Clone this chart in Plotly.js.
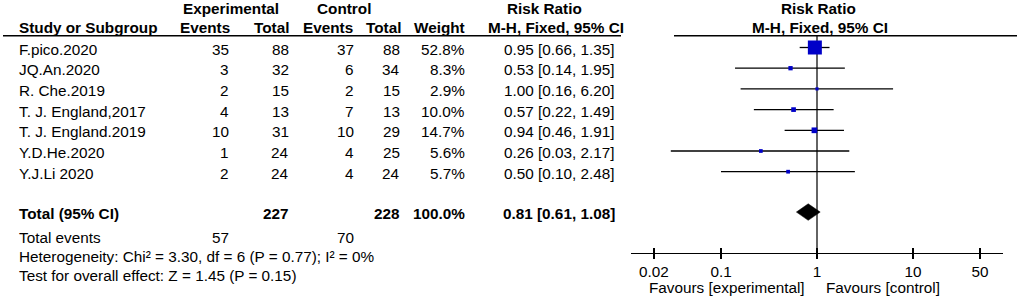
<!DOCTYPE html>
<html>
<head>
<meta charset="utf-8">
<script src="https://cdn.plot.ly/plotly-3.0.1.min.js"></script>
<style>html,body{margin:0;padding:0;background:#fff;}#chart{width:1021px;height:299px;}</style>
</head>
<body>
<div id="chart"></div>
<script>
// ---- data ----
const studies = ['F.pico.2020','JQ.An.2020','R. Che.2019','T. J. England,2017','T. J. England.2019','Y.D.He.2020','Y.J.Li 2020'];
const expEvents = [35, 3, 2, 4, 10, 1, 2];
const expTotal  = [88, 32, 15, 13, 31, 24, 24];
const ctlEvents = [37, 6, 2, 7, 10, 4, 4];
const ctlTotal  = [88, 34, 15, 13, 29, 25, 24];
const weights   = [52.8, 8.3, 2.9, 10.0, 14.7, 5.6, 5.7];
const riskRatio = [0.95, 0.53, 1.00, 0.57, 0.94, 0.26, 0.50];
const ciLow     = [0.66, 0.14, 0.16, 0.22, 0.46, 0.03, 0.10];
const ciHigh    = [1.35, 1.95, 6.20, 1.49, 1.91, 2.17, 2.48];
const totalExp = 227, totalCtl = 228, totalWeight = 100.0;
const totalEventsExp = 57, totalEventsCtl = 70;
const pooledRR = 0.81, pooledLow = 0.61, pooledHigh = 1.08;
const heterogeneityText = 'Heterogeneity: Chi² = 3.30, df = 6 (P = 0.77); I² = 0%';
const overallText = 'Test for overall effect: Z = 1.45 (P = 0.15)';
const tickValues = [0.02, 0.1, 1, 10, 50];
const tickLabels = ['0.02', '0.1', '1', '10', '50'];
const favourLeft = 'Favours [experimental]';
const favourRight = 'Favours [control]';

// ---- layout helpers ----
const W = 1021, H = 299;
const FONT = 'Liberation Sans, Arial, Helvetica, sans-serif';
const FS = 15.3;
const rowY0 = 47.5, rowStep = 20.7, textShift = 1.5;
const totalRow = 7.95;
const px = x => x / W;
const py = y => 1 - y / H;
const rowPix = i => rowY0 + rowStep * i;

const annotations = [];
function ann(text, x, y, anchor, bold) {
  annotations.push({
    text: bold ? '<b>' + text + '</b>' : text,
    xref: 'paper', yref: 'paper', x: px(x), y: py(y),
    xanchor: anchor, yanchor: 'middle', showarrow: false,
    font: {family: FONT, size: FS, color: '#000'}
  });
}
const col = {name: 17, expE: 231, expT: 291, ctlE: 356, ctlT: 402, weight: 467, rr: 617};
const head1 = 8.5, head2 = 27.5;

// headers
ann('Experimental', 230.5, head1, 'center', true);
ann('Control', 344, head1, 'center', true);
ann('Risk Ratio', 544, head1, 'center', true);
ann('Risk Ratio', 818.5, head1, 'center', true);
ann('Study or Subgroup', col.name, head2, 'left', true);
ann('Events', 232, head2, 'right', true);
ann('Total', 291, head2, 'right', true);
ann('Events', 355, head2, 'right', true);
ann('Total', 403, head2, 'right', true);
ann('Weight', 467, head2, 'right', true);
ann('M-H, Fixed, 95% CI', 556, head2, 'center', true);
ann('M-H, Fixed, 95% CI', 820, head2, 'center', true);

// study rows
studies.forEach((s, i) => {
  const y = rowPix(i) + textShift;
  ann(s, col.name, y, 'left', false);
  ann(String(expEvents[i]), col.expE, y, 'right', false);
  ann(String(expTotal[i]), col.expT, y, 'right', false);
  ann(String(ctlEvents[i]), col.ctlE, y, 'right', false);
  ann(String(ctlTotal[i]), col.ctlT, y, 'right', false);
  ann(weights[i].toFixed(1) + '%', col.weight, y, 'right', false);
  ann(riskRatio[i].toFixed(2) + ' [' + ciLow[i].toFixed(2) + ', ' + ciHigh[i].toFixed(2) + ']', col.rr, y, 'right', false);
});
// total row
const ty = rowPix(totalRow) + textShift;
ann('Total (95% CI)', col.name, ty, 'left', true);
ann(String(totalExp), col.expT, ty, 'right', true);
ann(String(totalCtl), col.ctlT, ty, 'right', true);
ann(totalWeight.toFixed(1) + '%', col.weight, ty, 'right', true);
ann(pooledRR.toFixed(2) + ' [' + pooledLow.toFixed(2) + ', ' + pooledHigh.toFixed(2) + ']', col.rr, ty, 'right', true);
ann('Total events', col.name, 237.5, 'left', false);
ann(String(totalEventsExp), col.expE, 237.5, 'right', false);
ann(String(totalEventsCtl), col.ctlE, 237.5, 'right', false);
ann(heterogeneityText, col.name, 256, 'left', false);
ann(overallText, col.name, 275, 'left', false);
ann(favourLeft, 807, 287.5, 'right', false);
ann(favourRight, 824, 287.5, 'left', false);

// ---- traces ----
const ciX = [], ciY = [];
riskRatio.forEach((r, i) => { ciX.push(ciLow[i], ciHigh[i], null); ciY.push(i, i, null); });
const maxW = Math.max(...weights);
const traces = [
  {type: 'scatter', mode: 'lines', x: ciX, y: ciY, line: {color: '#000', width: 1.3}, hoverinfo: 'skip', showlegend: false},
  {type: 'scatter', mode: 'markers', x: riskRatio, y: riskRatio.map((_, i) => i),
   marker: {symbol: 'square', color: '#0000C8', opacity: 1, size: weights.map(w => 2.5 + 11.5 * w / maxW), line: {width: 0}},
   showlegend: false},
  {type: 'scatter', mode: 'lines', fill: 'toself', fillcolor: '#000',
   x: [pooledLow, pooledRR, pooledHigh, pooledRR, pooledLow],
   y: [totalRow, totalRow - 0.4, totalRow, totalRow + 0.4, totalRow],
   line: {color: '#000', width: 0.5}, showlegend: false},
  {type: 'scatter', mode: 'markers', x: [1], y: [0], xaxis: 'x2', yaxis: 'y', marker: {opacity: 0}, hoverinfo: 'skip', showlegend: false}
];

const axisY = 252.5;
const xr = [-1.9375, 1.9375];
const layout = {
  width: W, height: H,
  margin: {l: 0, r: 0, t: 0, b: 0},
  paper_bgcolor: '#fff', plot_bgcolor: 'rgba(0,0,0,0)',
  showlegend: false,
  xaxis: {
    type: 'log', range: xr, domain: [631 / W, 1003 / W], anchor: 'free', position: py(axisY),
    showline: true, linecolor: '#000', linewidth: 1.4, showgrid: false, zeroline: false,
    ticks: 'outside', ticklen: 5, tickwidth: 1.4, tickcolor: '#000',
    tickmode: 'array', tickvals: tickValues, ticktext: tickLabels,
    tickfont: {family: FONT, size: FS, color: '#000'}, fixedrange: true
  },
  xaxis2: {
    type: 'log', range: xr, domain: [631 / W, 1003 / W], anchor: 'free', position: py(axisY),
    overlaying: 'x', showline: false, showgrid: false, zeroline: false,
    ticks: 'inside', ticklen: 5, tickwidth: 1.4, tickcolor: '#000',
    tickmode: 'array', tickvals: tickValues, showticklabels: false, fixedrange: true
  },
  yaxis: {
    range: [(H - rowY0) / rowStep, -rowY0 / rowStep], domain: [0, 1],
    visible: false, showgrid: false, zeroline: false, fixedrange: true
  },
  shapes: [
    {type: 'line', xref: 'paper', yref: 'paper', x0: px(3), x1: px(621), y0: py(35.7), y1: py(35.7), line: {color: '#000', width: 1.5}},
    {type: 'line', xref: 'paper', yref: 'paper', x0: px(674), x1: px(1017), y0: py(35.7), y1: py(35.7), line: {color: '#000', width: 1.5}},
    {type: 'line', xref: 'x', yref: 'paper', x0: 1, x1: 1, y0: py(axisY), y1: py(35.7), line: {color: '#222', width: 1.4}, layer: 'below'}
  ],
  annotations: annotations
};

Plotly.newPlot('chart', traces, layout, {staticPlot: true, displayModeBar: false});
</script>
</body>
</html>
